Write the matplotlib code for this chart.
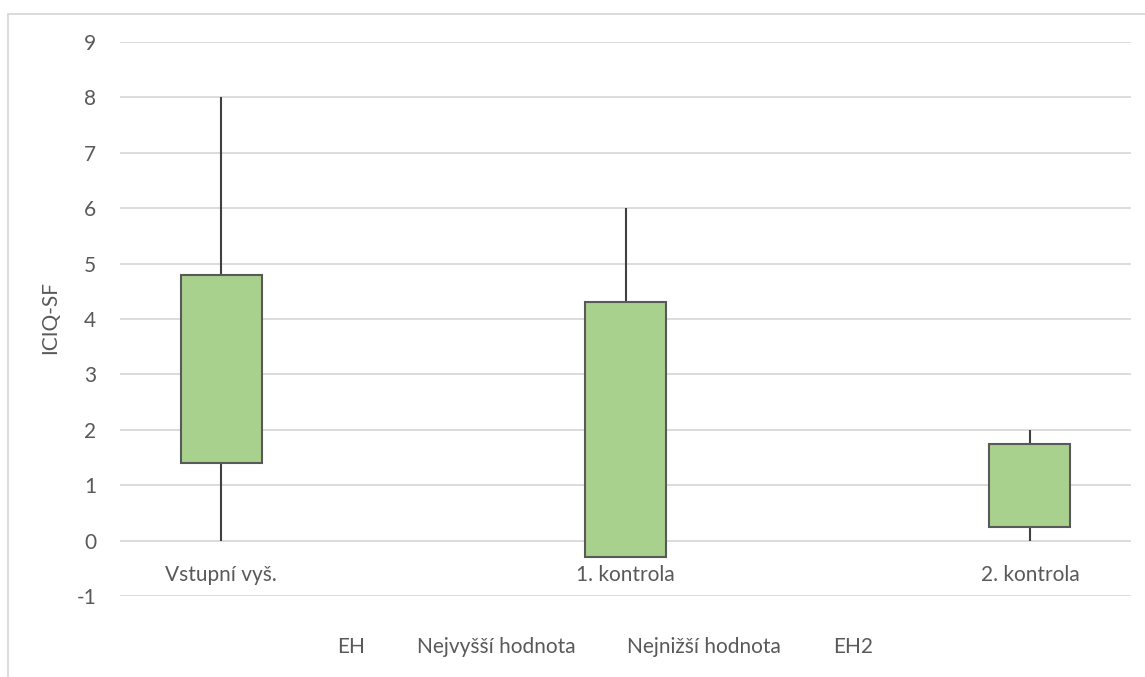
import numpy as np
import matplotlib.pyplot as plt
from matplotlib.lines import Line2D
from matplotlib.patches import Rectangle

# data
categories = ["Vstupní vyš.", "1. kontrola", "2. kontrola"]
eh = [4.8, 4.3, 1.75]       # EH (open)
high = [8, 6, 2]            # Nejvyšší hodnota
low = [0, 0, 0]             # Nejnižší hodnota
eh2 = [1.4, -0.3, 0.25]     # EH2 (close)
yticks = list(range(-1, 10))

plt.rcParams['font.family'] = ['Lato', 'DejaVu Sans']
txt = "#595959"
fs = 15

fig = plt.figure(figsize=(11.45, 6.77), dpi=100)
ax = fig.add_axes([120/1145, 1 - 596/677, (1131-120)/1145, (596-42)/677])

x = np.arange(len(categories))
ax.vlines(x, low, high, color="#404040", lw=1.5, zorder=2)
bottoms = np.minimum(eh, eh2)
heights = np.abs(np.array(eh) - np.array(eh2))
ax.bar(x, heights, bottom=bottoms, width=0.2, color="#A9D18E",
       edgecolor="#595959", linewidth=1.5, zorder=3)

ax.set_xlim(-0.25, 2.25)
ax.set_ylim(-1, 9)
ax.set_yticks(yticks)
ax.set_yticklabels([str(t) for t in yticks], color=txt, fontsize=fs)
ax.tick_params(axis='y', length=0, pad=17)
ax.set_xticks([])
ax.grid(axis='y', color="#D9D9D9", lw=1.3, zorder=0)
ax.set_axisbelow(True)
for s in ax.spines.values():
    s.set_visible(False)

for xi, c in zip(x, categories):
    ax.text(xi, -0.62, c, ha='center', va='center', color=txt, fontsize=fs)

fig.text(50/1145, 1 - 318/677, "ICIQ-SF", rotation=90, ha='center', va='center',
         color=txt, fontsize=fs)

handles = [Line2D([], [], linestyle='none') for _ in range(4)]
labels = ["EH", "Nejvyšší hodnota", "Nejnižší hodnota", "EH2"]
fig.legend(handles, labels, loc='center', bbox_to_anchor=(605/1145, 1 - 647/677),
           ncol=4, frameon=False, handlelength=0, handletextpad=0,
           columnspacing=2.5, labelcolor=txt, fontsize=fs)

fig.patches.append(Rectangle((8/1145, -0.1), 1.2, 1.1 - 14/677, transform=fig.transFigure,
                             fill=False, edgecolor="#D9D9D9", lw=1.3))

fig.savefig("out.png", dpi=100)
